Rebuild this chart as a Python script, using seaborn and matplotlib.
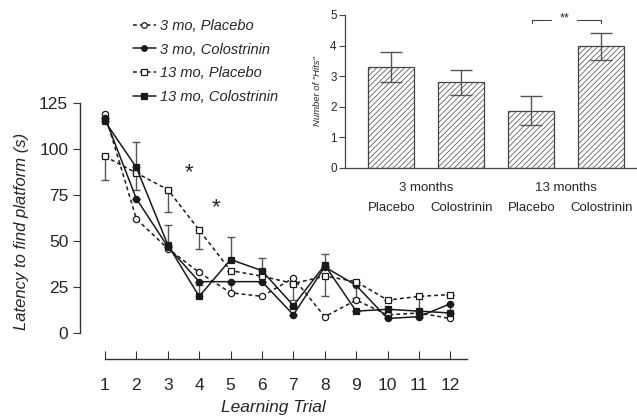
import numpy as np
import pandas as pd
import matplotlib
matplotlib.use("Agg")
import matplotlib.pyplot as plt
import seaborn as sns
from matplotlib.legend_handler import HandlerLine2D
from matplotlib.lines import Line2D

sns.set_style("ticks")
plt.rcParams["font.family"] = ["Liberation Sans", "DejaVu Sans"]
plt.rcParams["hatch.linewidth"] = 0.5

# main panel: latency per learning trial
trials = np.arange(1, 13)
placebo_3mo = [119, 62, 46, 33, 22, 20, 30, 9, 18, 10, 11, 8]
colos_3mo = [117, 73, 47, 28, 28, 28, 10, 36, 26, 8, 9, 16]
placebo_13mo = [96, 87, 78, 56, 34, 31, 27, 31, 28, 18, 20, 21]
colos_13mo = [115, 90, 48, 20, 40, 34, 15, 37, 12, 13, 12, 11]

# one-sided error bars as drawn in the figure
colos_3mo_lo = [0, 0, 0, 0, 6, 0, 0, 0, 7, 0, 0, 5]
placebo_13mo_lo = [13, 9, 12, 10, 0, 0, 9, 11, 0, 0, 8, 0]
colos_13mo_hi = [0, 14, 11, 6, 12, 7, 0, 6, 0, 0, 0, 0]

# inset: number of hits
groups = ["3mo Placebo", "3mo Colostrinin", "13mo Placebo", "13mo Colostrinin"]
hits = [3.3, 2.8, 1.87, 3.98]
hits_err = [0.48, 0.4, 0.47, 0.44]
bar_labels = ["Placebo", "Colostrinin", "Placebo", "Colostrinin"]
age_labels = ["3 months", "13 months"]

fig = plt.figure(figsize=(6.37, 4.2), dpi=100)
ax = fig.add_axes([0.1256, 0.1452, 0.6075, 0.6095])

line_col = "#1a1a1a"
err_col = "#555555"
series = [
    ("3 mo, Placebo", placebo_3mo, "o", "white", (0, (2.5, 2))),
    ("3 mo, Colostrinin", colos_3mo, "o", line_col, "-"),
    ("13 mo, Placebo", placebo_13mo, "s", "white", (0, (2.5, 2))),
    ("13 mo, Colostrinin", colos_13mo, "s", line_col, "-"),
]

# error bars first so markers sit on top
ax.errorbar(trials, colos_3mo, yerr=[colos_3mo_lo, np.zeros(12)], fmt="none",
            ecolor=err_col, elinewidth=1, capsize=3, capthick=1)
ax.errorbar(trials, placebo_13mo, yerr=[placebo_13mo_lo, np.zeros(12)], fmt="none",
            ecolor=err_col, elinewidth=1, capsize=3, capthick=1)
ax.errorbar(trials, colos_13mo, yerr=[np.zeros(12), colos_13mo_hi], fmt="none",
            ecolor=err_col, elinewidth=1, capsize=3, capthick=1)

handles = []
for label, vals, mk, fc, ls in series:
    sns.lineplot(x=trials, y=vals, ax=ax, color=line_col, linewidth=1.1,
                 linestyle=ls, marker=mk, markersize=4.5, markerfacecolor=fc,
                 markeredgecolor=line_col, markeredgewidth=0.9)
    handles.append(Line2D([], [], color=line_col, linewidth=1.1, linestyle=ls,
                          marker=mk, markersize=4, markerfacecolor=fc,
                          markeredgecolor=line_col, markeredgewidth=0.9))

ax.text(3.67, 87, "*", fontsize=16, ha="center", va="center")
ax.text(4.53, 68, "*", fontsize=16, ha="center", va="center")

ax.set_xlim(0.204, 12.53)
ax.set_ylim(-14, 125)
ax.set_xticks(trials)
ax.set_yticks([0, 25, 50, 75, 100, 125])
ax.spines["top"].set_visible(False)
ax.spines["right"].set_visible(False)
ax.spines["left"].set_bounds(0, 125)
ax.spines["bottom"].set_bounds(1, 12.53)
for s in ["left", "bottom"]:
    ax.spines[s].set_color("#333333")
    ax.spines[s].set_linewidth(1)
ax.tick_params(axis="x", direction="in", length=6, labelsize=12.5, pad=14, color="#333333")
ax.tick_params(axis="y", direction="out", length=5, labelsize=12.5, color="#333333")
ax.set_xlabel("Learning Trial", fontsize=12.5, fontstyle="italic", labelpad=5)
ax.set_ylabel("Latency to find platform (s)", fontsize=12, fontstyle="italic", labelpad=7)


class LeftMarker(HandlerLine2D):
    def get_xdata(self, legend, xdescent, ydescent, width, height, fontsize):
        return [-xdescent, -xdescent + width], [-xdescent]


fig.legend(handles, [s[0] for s in series], loc="upper left",
           bbox_to_anchor=(0.2088, 0.955), frameon=False, borderpad=0,
           borderaxespad=0, handlelength=1.55, handletextpad=0.3,
           labelspacing=0.66, prop={"size": 10.5, "style": "italic"},
           handler_map={Line2D: LeftMarker()})

# inset bar chart
ins = fig.add_axes([0.5416, 0.6, 0.4584, 0.3643])
df = pd.DataFrame({"group": groups, "hits": hits})
sns.barplot(data=df, x="group", y="hits", ax=ins, color="white", width=0.66,
            errorbar=None, edgecolor="#444444", linewidth=0.9)
for p in ins.patches:
    p.set_hatch("//////")
ins.errorbar(np.arange(4), hits, yerr=hits_err, fmt="none", ecolor=err_col,
             elinewidth=1, capsize=8, capthick=1)
ins.set_xlim(-0.66, 3.51)
ins.set_ylim(0, 5)
ins.set_yticks([0, 1, 2, 3, 4, 5])
ins.set_xticks([])
ins.set_xlabel("")
ins.spines["top"].set_visible(False)
ins.spines["right"].set_visible(False)
for s in ["left", "bottom"]:
    ins.spines[s].set_color("#444444")
    ins.spines[s].set_linewidth(0.9)
ins.tick_params(axis="y", direction="out", length=4, labelsize=8.4, pad=2, color="#444444")
ins.set_ylabel('Number of "Hits"', fontsize=6.8, fontstyle="italic", labelpad=6)

for i, lab in enumerate(bar_labels):
    ins.text(i, -1.31, lab, ha="center", va="center", fontsize=9.5)
for i, lab in enumerate(age_labels):
    ins.text(2 * i + 0.5, -0.65, lab, ha="center", va="center", fontsize=9.5)

# significance bracket between the 13-month bars
ins.plot([2.01, 2.01, 2.28], [4.74, 4.84, 4.84], color="#444444", linewidth=0.8, clip_on=False)
ins.plot([2.66, 3.0, 3.0], [4.84, 4.84, 4.74], color="#444444", linewidth=0.8, clip_on=False)
ins.text(2.47, 4.9, "**", ha="center", va="center", fontsize=9)

fig.savefig("out.png", dpi=100)
